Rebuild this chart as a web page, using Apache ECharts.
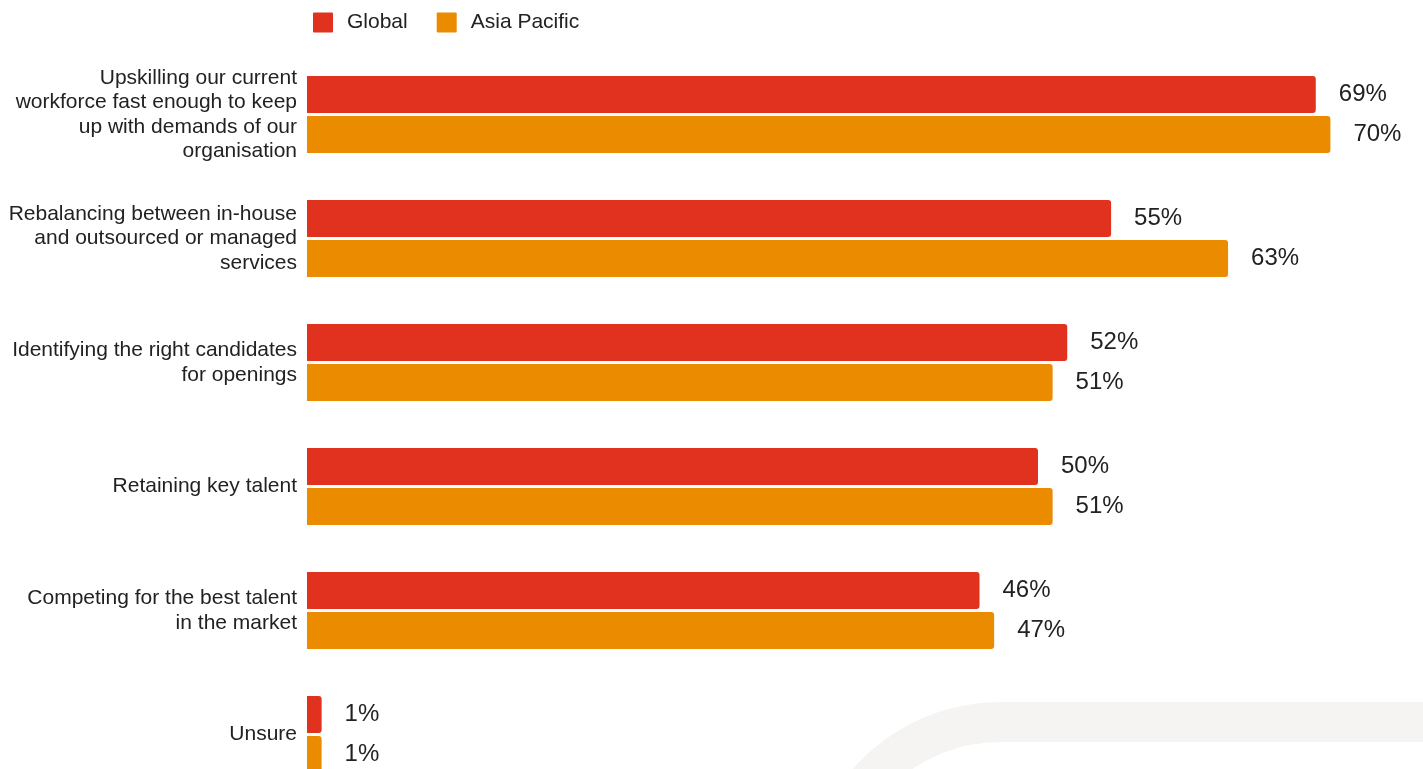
<!DOCTYPE html>
<html>
<head>
<meta charset="utf-8">
<script src="https://cdn.jsdelivr.net/npm/echarts@6/dist/echarts.min.js"></script>
<style>
html,body{margin:0;padding:0;background:#fff;}
#chart{width:1423px;height:769px;}
</style>
</head>
<body>
<div id="chart"></div>
<script>
const categories = [
  "Upskilling our current\nworkforce fast enough to keep\nup with demands of our\norganisation",
  "Rebalancing between in-house\nand outsourced or managed\nservices",
  "Identifying the right candidates\nfor openings",
  "Retaining key talent",
  "Competing for the best talent\nin the market",
  "Unsure"
];
const globalValues = [69, 55, 52, 50, 46, 1];
const asiaPacificValues = [70, 63, 51, 51, 47, 1];
const seriesNames = ["Global", "Asia Pacific"];

const FONT = "'Liberation Sans', Arial, sans-serif";
const chart = echarts.init(document.getElementById('chart'));
const labelStyle = {
  show: true,
  position: 'right',
  distance: 23,
  formatter: '{c}%',
  fontFamily: FONT,
  fontSize: 24,
  color: '#222',
  textBorderColor: '#fff',
  textBorderWidth: 3
};
chart.setOption({
  animation: false,
  backgroundColor: '#fff',
  graphic: [{
    type: 'rect',
    z: -10,
    silent: true,
    shape: { x: 825, y: 722, width: 900, height: 400, r: 175 },
    style: { fill: 'none', stroke: '#f5f4f2', lineWidth: 40 }
  }],
  legend: {
    data: seriesNames,
    left: 308,
    top: 7,
    itemWidth: 20,
    itemHeight: 20,
    itemGap: 29,
    icon: 'path://M1,0 L19,0 Q20,0 20,1 L20,19 Q20,20 19,20 L1,20 Q0,20 0,19 L0,1 Q0,0 1,0 Z',
    textStyle: {
      fontFamily: FONT,
      fontSize: 21,
      color: '#222',
      padding: [0, 0, 0, 9]
    }
  },
  grid: {
    left: 307,
    width: 1096.5,
    top: 52.5,
    height: 744,
    containLabel: false,
    outerBoundsMode: 'none'
  },
  xAxis: {
    type: 'value',
    min: 0,
    max: 75,
    show: false,
    splitLine: { show: false }
  },
  yAxis: {
    type: 'category',
    data: categories,
    inverse: true,
    axisLine: { show: false },
    axisTick: { show: false },
    axisLabel: {
      margin: 10,
      fontFamily: FONT,
      fontSize: 21,
      lineHeight: 24.5,
      color: '#222',
      align: 'right'
    }
  },
  series: [
    {
      name: seriesNames[0],
      type: 'bar',
      data: globalValues,
      barWidth: 37,
      barGap: '8%',
      itemStyle: { color: '#e0321f', borderRadius: [0, 3, 3, 0] },
      label: labelStyle
    },
    {
      name: seriesNames[1],
      type: 'bar',
      data: asiaPacificValues,
      barWidth: 37,
      barGap: '8%',
      itemStyle: { color: '#ea8b00', borderRadius: [0, 3, 3, 0] },
      label: labelStyle
    }
  ]
});
</script>
</body>
</html>
